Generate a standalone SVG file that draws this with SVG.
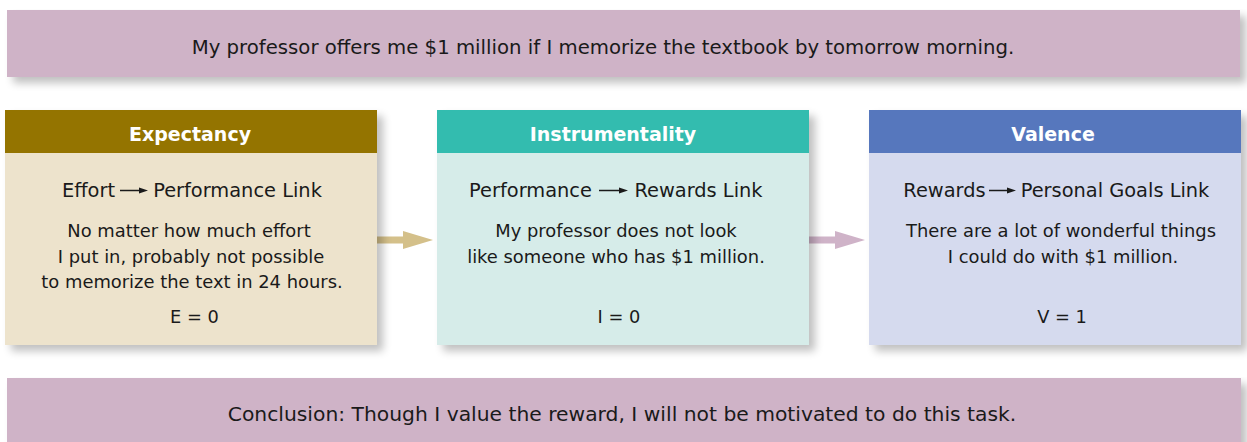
<svg xmlns="http://www.w3.org/2000/svg" width="1247" height="442" viewBox="0 0 1247 442">
<style>
.t{font-family:"DejaVu Sans","Liberation Sans",sans-serif;fill:#1a1a1a;text-anchor:middle}
.ban{font-size:19.7px}
.ban2{font-size:20.3px}
.hd{font-family:"DejaVu Sans","Liberation Sans",sans-serif;font-weight:bold;font-size:19px;fill:#ffffff;text-anchor:middle}
.lk{font-size:19.4px}
.bd{font-size:17.9px}
.eq{font-size:17.8px}
</style>
<defs>
<filter id="sh" x="-5%" y="-10%" width="115%" height="130%">
<feGaussianBlur in="SourceAlpha" stdDeviation="4"/>
<feOffset dx="6" dy="6" result="b"/>
<feComponentTransfer><feFuncA type="linear" slope="0.25"/></feComponentTransfer>
<feMerge><feMergeNode/><feMergeNode in="SourceGraphic"/></feMerge>
</filter>
</defs>
<rect width="1247" height="442" fill="#ffffff"/>
<g id="premise">
<rect x="7" y="10" width="1233" height="67" fill="#cfb3c7" filter="url(#sh)"/>
<text class="t ban" x="603" y="54">My professor offers me $1 million if I memorize the textbook by tomorrow morning.</text>
</g>
<g id="connectors">
<rect x="377" y="236.5" width="28" height="7" fill="#d4c08a"/>
<polygon points="403,231 433,240 403,249" fill="#d4c08a"/>
<rect x="809" y="236.5" width="28" height="7" fill="#cfb3c8"/>
<polygon points="835,231 865,240 835,249" fill="#cfb3c8"/>
</g>
<g id="expectancy">
<rect x="5" y="110" width="372" height="235" fill="#ede3cc" filter="url(#sh)"/>
<rect x="5" y="110" width="372" height="43" fill="#947400"/>
<text class="hd" x="190" y="141">Expectancy</text>
<text class="t lk" x="88.5" y="197">Effort</text>
<line x1="120" y1="190.5" x2="142" y2="190.5" stroke="#1a1a1a" stroke-width="1.5"/>
<polygon points="139,187.5 148,190.5 139,193.5" fill="#1a1a1a"/>
<text class="t lk" x="237.5" y="197">Performance Link</text>
<text class="t bd" x="189" y="237">No matter how much effort</text>
<text class="t bd" x="191" y="263">I put in, probably not possible</text>
<text class="t bd" x="192" y="288">to memorize the text in 24 hours.</text>
<text class="t eq" x="194.5" y="323">E = 0</text>
</g>
<g id="instrumentality">
<rect x="437" y="110" width="372" height="235" fill="#d6ece9" filter="url(#sh)"/>
<rect x="437" y="110" width="372" height="43" fill="#33bcaf"/>
<text class="hd" x="613" y="141">Instrumentality</text>
<text class="t lk" x="530.5" y="197">Performance</text>
<line x1="599" y1="190.5" x2="622" y2="190.5" stroke="#1a1a1a" stroke-width="1.5"/>
<polygon points="619,187.5 628,190.5 619,193.5" fill="#1a1a1a"/>
<text class="t lk" x="698.5" y="197">Rewards Link</text>
<text class="t bd" x="616" y="237">My professor does not look</text>
<text class="t bd" x="616" y="263">like someone who has $1 million.</text>
<text class="t eq" x="619" y="323">I = 0</text>
</g>
<g id="valence">
<rect x="869" y="110" width="372" height="235" fill="#d5daee" filter="url(#sh)"/>
<rect x="869" y="110" width="372" height="43" fill="#5677bd"/>
<text class="hd" x="1053" y="141">Valence</text>
<text class="t lk" x="944.5" y="197">Rewards</text>
<line x1="989" y1="190.5" x2="1010" y2="190.5" stroke="#1a1a1a" stroke-width="1.5"/>
<polygon points="1007,187.5 1016,190.5 1007,193.5" fill="#1a1a1a"/>
<text class="t lk" x="1115" y="197">Personal Goals Link</text>
<text class="t bd" x="1061" y="237">There are a lot of wonderful things</text>
<text class="t bd" x="1063" y="263">I could do with $1 million.</text>
<text class="t eq" x="1062" y="323">V = 1</text>
</g>
<g id="conclusion">
<rect x="7" y="378" width="1234" height="70" fill="#cfb3c7" filter="url(#sh)"/>
<text class="t ban2" x="622" y="421">Conclusion: Though I value the reward, I will not be motivated to do this task.</text>
</g>
</svg>
